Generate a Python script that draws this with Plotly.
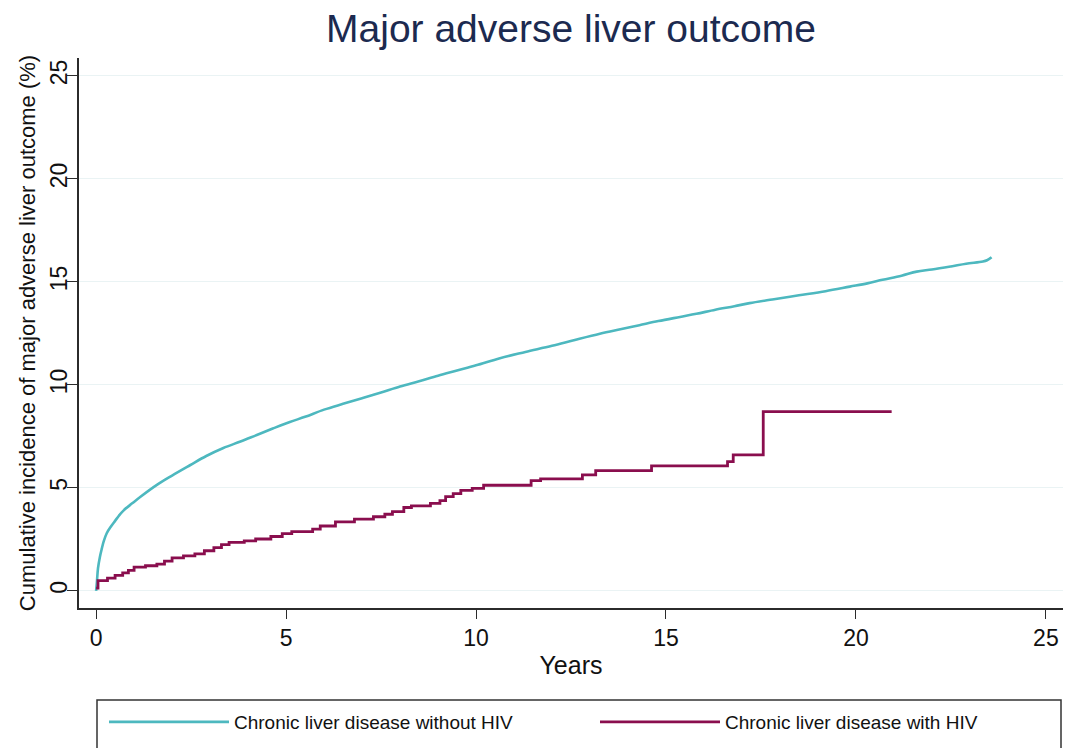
import plotly.graph_objects as go

# --- Data ---
years_no_hiv = [0.0, 0.02, 0.05, 0.1, 0.15, 0.2, 0.28, 0.4, 0.5, 0.6, 0.72, 0.95, 1.16, 1.6,
                2.0, 2.47, 2.9, 3.35, 3.8, 4.23, 4.65, 5.1, 5.5, 6.0, 6.5, 7.0, 7.5, 8.0,
                8.5, 9.0, 9.5, 10.0, 10.63, 11.3, 12.0, 12.6, 13.26, 13.8, 14.3, 14.8,
                15.37, 15.8, 16.3, 16.8, 17.2, 17.8, 18.5, 19.2, 19.84, 20.3, 20.7, 21.2,
                21.6, 22.0, 22.5, 22.9, 23.34, 23.45, 23.57]
cuminc_no_hiv = [0.0, 0.4, 1.1, 1.65, 2.05, 2.4, 2.8, 3.15, 3.4, 3.65, 3.9, 4.25, 4.56, 5.15,
                 5.6, 6.1, 6.55, 6.94, 7.25, 7.57, 7.88, 8.2, 8.45, 8.8, 9.08, 9.35, 9.63,
                 9.92, 10.18, 10.45, 10.7, 10.95, 11.3, 11.6, 11.9, 12.18, 12.48, 12.7, 12.9,
                 13.1, 13.3, 13.45, 13.65, 13.82, 13.97, 14.15, 14.35, 14.55, 14.77, 14.93,
                 15.1, 15.3, 15.5, 15.6, 15.75, 15.88, 15.99, 16.05, 16.2]

years_hiv = [0.0, 0.05, 0.3, 0.5, 0.7, 0.85, 1.0, 1.3, 1.6, 1.8, 2.0, 2.3, 2.6, 2.85, 3.1,
             3.3, 3.5, 3.9, 4.2, 4.6, 4.9, 5.15, 5.7, 5.9, 6.3, 6.8, 7.3, 7.6, 7.8, 8.1,
             8.3, 8.8, 9.05, 9.2, 9.4, 9.6, 9.9, 10.2, 11.45, 11.7, 12.8, 13.15, 14.62,
             16.62, 16.77, 17.56, 20.94]
cuminc_hiv = [0.13, 0.5, 0.62, 0.75, 0.88, 1.0, 1.15, 1.22, 1.3, 1.45, 1.6, 1.7, 1.8, 1.95,
              2.1, 2.25, 2.36, 2.43, 2.52, 2.64, 2.78, 2.88, 3.0, 3.15, 3.35, 3.48, 3.6,
              3.72, 3.85, 4.05, 4.13, 4.25, 4.38, 4.58, 4.72, 4.88, 4.98, 5.13, 5.35, 5.44,
              5.63, 5.84, 6.07, 6.28, 6.6, 8.7, 8.7]

series_names = ["Chronic liver disease without HIV", "Chronic liver disease with HIV"]
x_ticks = [0, 5, 10, 15, 20, 25]
y_ticks = [0, 5, 10, 15, 20, 25]

TEAL = "#4DB8BF"
MAROON = "#8A0E4E"
FONT = "Liberation Sans, Arial, sans-serif"
AXIS_COLOR = "#2b2b2b"

W, H = 1065, 748
ML, MR, MT, MB = 79, 2, 58, 140
PW, PH = W - ML - MR, H - MT - MB


def px_to_paper_x(px):
    return (px - ML) / PW


def px_to_paper_y(py):
    return (H - MB - py) / PH


fig = go.Figure()
fig.add_trace(go.Scatter(
    x=years_no_hiv, y=cuminc_no_hiv, mode="lines", name=series_names[0],
    line=dict(color=TEAL, width=2.6), line_shape="spline"))
fig.add_trace(go.Scatter(
    x=years_hiv, y=cuminc_hiv, mode="lines", name=series_names[1],
    line=dict(color=MAROON, width=2.8), line_shape="hv"))

fig.update_layout(
    width=W, height=H,
    margin=dict(l=ML, r=MR, t=MT, b=MB, autoexpand=False),
    paper_bgcolor="white", plot_bgcolor="white",
    font=dict(family=FONT, color="#111111"),
    title=dict(text="Major adverse liver outcome", x=0.5, xref="paper",
               y=1 - 28 / H, yref="container", yanchor="middle",
               font=dict(size=39, color="#1C2A50", family=FONT)),
    showlegend=True,
    legend=dict(orientation="h", xref="paper", yref="paper",
                x=px_to_paper_x(104), xanchor="left", y=px_to_paper_y(703), yanchor="top",
                borderwidth=0, bgcolor="rgba(0,0,0,0)",
                font=dict(size=19, family=FONT, color="#111111"),
                itemwidth=120, entrywidth=356, entrywidthmode="pixels",
                tracegroupgap=0),
    shapes=[dict(type="rect", xref="paper", yref="paper",
                 x0=px_to_paper_x(97), x1=px_to_paper_x(1061),
                 y0=px_to_paper_y(700), y1=px_to_paper_y(770),
                 line=dict(color="#333333", width=1.5), fillcolor="rgba(0,0,0,0)",
                 layer="below")],
)

fig.update_xaxes(
    range=[-0.45, 25.45], tickvals=x_ticks, ticktext=[str(v) for v in x_ticks],
    showgrid=False, zeroline=False, automargin=False,
    showline=True, linecolor=AXIS_COLOR, linewidth=1.5,
    ticks="outside", ticklen=9, tickwidth=1.3, tickcolor=AXIS_COLOR,
    ticklabeloverflow="allow",
    tickfont=dict(size=23, family=FONT, color="#111111"),
    title=dict(text="Years", font=dict(size=25, family=FONT, color="#111111"), standoff=6),
)
fig.update_yaxes(
    range=[-0.83, 25.87], tickvals=y_ticks, ticktext=[str(v) for v in y_ticks],
    showgrid=True, gridcolor="#EAF3F4", gridwidth=1.3, zeroline=False, automargin=False,
    showline=True, linecolor=AXIS_COLOR, linewidth=1.5,
    ticks="outside", ticklen=10, tickwidth=1.3, tickcolor=AXIS_COLOR,
    tickangle=-90, ticklabelstandoff=-9,
    tickfont=dict(size=23, family=FONT, color="#111111"),
    title=dict(text="Cumulative incidence of major adverse liver outcome (%)",
               font=dict(size=22, family=FONT, color="#111111"), standoff=4),
)

fig.write_html(
    "out.html",
    config={"displayModeBar": False},
    post_script="document.body.style.margin='0';document.body.style.overflow='hidden';",
)
